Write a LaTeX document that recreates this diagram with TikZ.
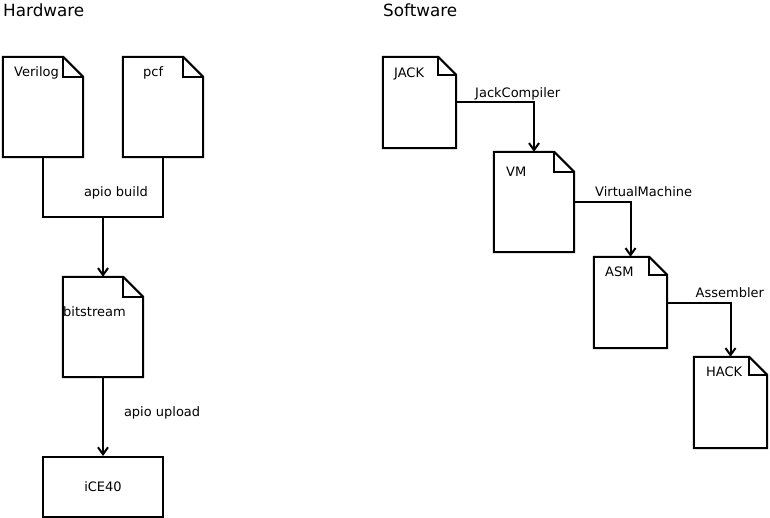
\documentclass[tikz,border=0pt]{standalone}
\usepackage{fontspec}
\setmainfont{DejaVu Sans}
\usetikzlibrary{arrows.meta}

% outline of a document node with folded corner
\newcommand{\docshape}[2]{%
  \draw[docline] (#1.south west) -- (#1.north west) -- ([xshift=-#2]#1.north east)
    -- ([yshift=-#2]#1.north east) -- (#1.south east) -- cycle;
  \draw[docline] ([xshift=-#2]#1.north east) |- ([yshift=-#2]#1.north east);
}

\begin{document}
\begin{tikzpicture}[
    x=1pt, y=-1pt,
    docline/.style={line width=2pt, line join=miter},
    docbox/.style={inner sep=0, minimum width=80, minimum height=100},
    smalldoc/.style={inner sep=0, minimum width=73, minimum height=91},
    title/.style={inner sep=0, anchor=base west, font=\fontsize{16.8}{20}\selectfont},
    lbl/.style={inner sep=0, anchor=base west, font=\fontsize{13}{15}\selectfont},
    conn/.style={line width=2pt, -{Straight Barb[length=7pt,width=10pt,line width=2pt]}}
]
\useasboundingbox (0,0) rectangle (770,518);

\node[title] (hwtitle) at (3,17) {Hardware};
\node[title] (swtitle) at (383,17) {Software};

% hardware
\node[docbox] (verilog) at (43,107) {};
\node[docbox] (pcf) at (163,107) {};
\node[docbox] (bitstream) at (103,327) {};
\node[draw, line width=2pt, minimum width=120, minimum height=60,
      font=\fontsize{13}{15}\selectfont] (ice) at (103,487) {iCE40};
\docshape{verilog}{20}
\docshape{pcf}{20}
\docshape{bitstream}{20}

\node[lbl] (veriloglbl) at (14,77) {Verilog};
\node[lbl] (pcflbl) at (143,77) {pcf};
\node[lbl] (bitstreamlbl) at (63,316.7) {bitstream};

\coordinate (build) at (103,217);
\draw[docline] (verilog.south) |- (build) -| (pcf.south);
\draw[conn] (build) node[lbl, xshift=-20, yshift=20] (buildlbl) {apio build}
    -- (bitstream.north);
\draw[conn] (bitstream.south) -- node[lbl, xshift=20, yshift=0.3] (uploadlbl) {apio upload}
    (ice.north);

% software
\node[smalldoc] (jack) at (419.5,102.5) {};
\node[docbox] (vm) at (534,202) {};
\node[smalldoc] (asm) at (630.5,302.5) {};
\node[smalldoc] (hack) at (730.5,402.5) {};
\docshape{jack}{18}
\docshape{vm}{20}
\docshape{asm}{18}
\docshape{hack}{18}

\node[lbl] (jacklbl) at (394,78) {JACK};
\node[lbl] (vmlbl) at (506,176.7) {VM};
\node[lbl] (asmlbl) at (605,276.7) {ASM};
\node[lbl] (hacklbl) at (706,376.7) {HACK};

\draw[conn] (jack.east) node[lbl, xshift=18, yshift=5.3] (compilerlbl) {JackCompiler}
    -| (vm.north);
\draw[conn] (vm.east) node[lbl, xshift=20, yshift=5.3] (vmtrlbl) {VirtualMachine}
    -| (asm.north);
\draw[conn] (asm.east) node[lbl, xshift=27.5, yshift=5.3] (asmblbl) {Assembler}
    -| (hack.north);

\end{tikzpicture}
\end{document}
